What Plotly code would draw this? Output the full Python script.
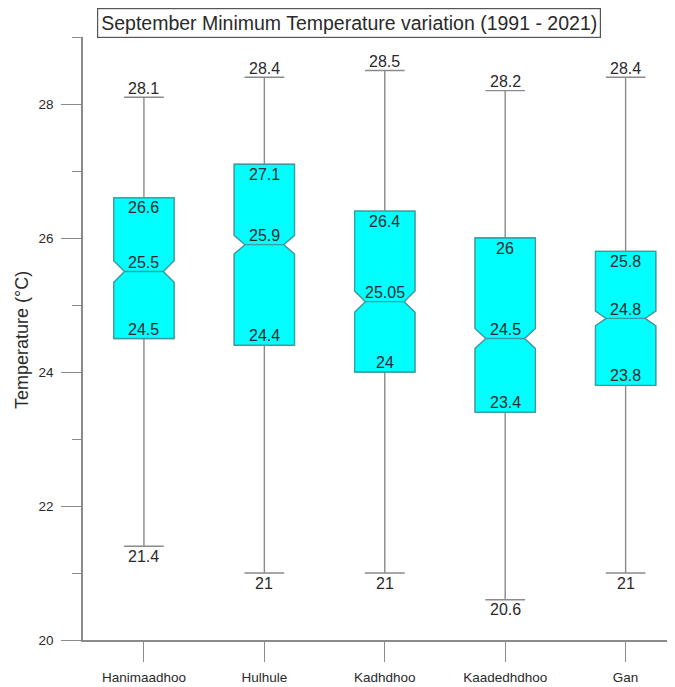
import plotly.graph_objects as go

stations = ["Hanimaadhoo", "Hulhule", "Kadhdhoo", "Kaadedhdhoo", "Gan"]
t_min = [21.4, 21.0, 21.0, 20.6, 21.0]
t_q1 = [24.5, 24.4, 24.0, 23.4, 23.8]
t_median = [25.5, 25.9, 25.05, 24.5, 24.8]
t_q3 = [26.6, 27.1, 26.4, 26.0, 25.8]
t_max = [28.1, 28.4, 28.5, 28.2, 28.4]
notch_span = [0.16, 0.14, 0.16, 0.15, 0.11]

title_text = "September Minimum Temperature variation (1991 - 2021)"
y_title = "Temperature (°C)"

FILL = "#00FFFF"
EDGE = "#3a9ca3"
WHISK = "#8a8a8a"
AX = "#8a8a8a"
TXT = "#2a2a2a"
FONT = "Liberation Sans, Arial, sans-serif"


def fmt(v):
    s = ("%.2f" % v).rstrip("0").rstrip(".")
    return s


fig = go.Figure()

# whiskers + caps (gray)
fig.add_trace(go.Box(
    x=stations, q1=t_q1, median=t_median, q3=t_q3,
    lowerfence=t_min, upperfence=t_max, notchspan=notch_span,
    notched=True, notchwidth=0.18, width=0.5, whiskerwidth=0.66,
    fillcolor=FILL, line=dict(color=WHISK, width=1.4),
    boxpoints=False, showlegend=False, hoverinfo="skip",
))
# box body (teal outline)
fig.add_trace(go.Box(
    x=stations, q1=t_q1, median=t_median, q3=t_q3,
    lowerfence=t_q1, upperfence=t_q3, notchspan=notch_span,
    notched=True, notchwidth=0.18, width=0.5, whiskerwidth=0,
    fillcolor=FILL, line=dict(color=EDGE, width=1.3),
    boxpoints=False, showlegend=False, hoverinfo="skip",
))

# page body has an 8px margin, so the figure is 8px smaller than the window
W, H = 667, 679
ml, mr, mt, mb = 75, 0, 29, 47
ph = H - mt - mb
pw = W - ml - mr

annotations = [
    dict(text=title_text, xref="paper", yref="paper",
         x=(341 - ml) / pw, y=1 + (mt - 15) / ph, xanchor="center", yanchor="middle",
         showarrow=False, font=dict(family=FONT, size=19.5, color=TXT),
         bordercolor="#555555", borderwidth=1.2, borderpad=3, bgcolor="white"),
    dict(text=y_title, xref="paper", yref="paper",
         x=(14 - ml) / pw, y=(632 - 332) / ph, xanchor="center", yanchor="middle",
         textangle=-90, showarrow=False, font=dict(family=FONT, size=18, color=TXT)),
]

lab_font = dict(family=FONT, size=16, color=TXT)
for vals, shift in [(t_max, 9), (t_median, 9), (t_q1, 9.5), (t_min, -10), (t_q3, -10)]:
    for st, v in zip(stations, vals):
        annotations.append(dict(
            x=st, y=v, xref="x", yref="y", text=fmt(v), showarrow=False,
            xanchor="center", yanchor="middle", yshift=shift, font=lab_font,
        ))

fig.update_layout(
    width=W, height=H,
    margin=dict(l=ml, r=mr, t=mt, b=mb),
    paper_bgcolor="white", plot_bgcolor="white",
    boxmode="overlay",
    font=dict(family=FONT, color=TXT),
    xaxis=dict(
        type="category", range=[-0.506, 4.41],
        showline=True, linecolor=AX, linewidth=1.5,
        ticks="outside", ticklen=20, tickcolor=AX, tickwidth=1.3,
        tickfont=dict(family=FONT, size=13.5, color=TXT),
        ticklabelstandoff=4,
        showgrid=False, zeroline=False,
    ),
    yaxis=dict(
        range=[20, 29], tickvals=[20, 22, 24, 26, 28],
        showline=True, linecolor=AX, linewidth=1.5,
        ticks="outside", ticklen=20, tickcolor=AX, tickwidth=1.3,
        tickfont=dict(family=FONT, size=13.5, color=TXT),
        ticklabelstandoff=5,
        minor=dict(dtick=1, ticks="outside", ticklen=9, tickcolor=AX, tickwidth=1.3),
        showgrid=False, zeroline=False,
    ),
    annotations=annotations,
)

fig.write_html("out.html")
